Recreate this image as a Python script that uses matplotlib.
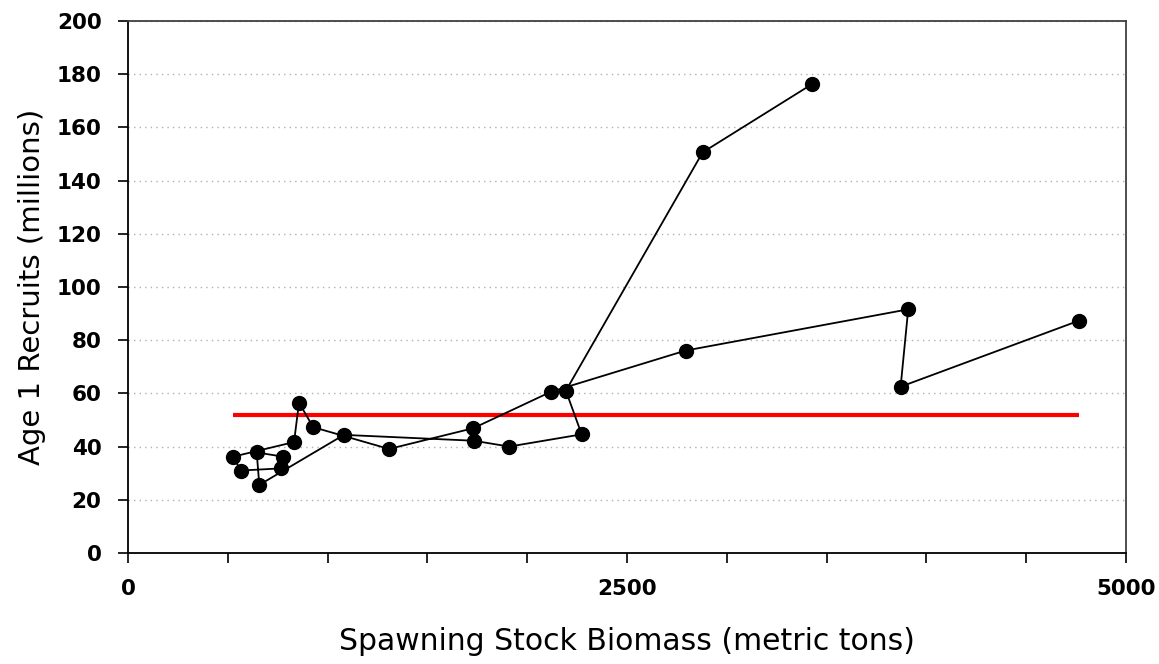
import numpy as np
import matplotlib
matplotlib.use("Agg")
import matplotlib.pyplot as plt
from matplotlib.ticker import MultipleLocator

# spawning stock biomass (metric tons) and age-1 recruits (millions), in series order
ssb = [4763, 3871, 3909, 2794, 2119, 1730, 1308, 928, 857, 832, 527, 565,
       767, 778, 645, 658, 1082, 1733, 1910, 2273, 2194, 2879, 3428]
recruits = [87.3, 62.5, 91.6, 76.1, 60.6, 46.9, 39.1, 47.3, 56.5, 41.7, 36.2, 31.0,
            31.8, 36.2, 37.8, 25.6, 44.4, 42.2, 40.0, 44.6, 61.0, 150.6, 176.3]

# reference recruitment level (red line)
ref_level = 52

fig = plt.figure(figsize=(11.59, 6.64), dpi=100)
ax = fig.add_axes([0.1104, 0.1672, 0.8611, 0.8012])

ax.plot(ssb, recruits, color="black", linewidth=1.3, marker="o",
        markersize=10, markerfacecolor="black", markeredgecolor="black", zorder=3)
ax.hlines(ref_level, min(ssb), max(ssb), color="red", linewidth=3, zorder=2)

ax.set_xlim(0, 5000)
ax.set_ylim(0, 200)
ax.xaxis.set_major_locator(MultipleLocator(2500))
ax.xaxis.set_minor_locator(MultipleLocator(500))
ax.yaxis.set_major_locator(MultipleLocator(20))

ax.yaxis.grid(True, linestyle=(0, (1, 3)), color="#b0b0b0", linewidth=1)
ax.set_axisbelow(True)

ax.tick_params(axis="both", which="both", direction="out", length=7, width=1.2,
               color="black")
ax.tick_params(axis="y", pad=12)
ax.tick_params(axis="x", pad=12)
for lab in ax.get_xticklabels() + ax.get_yticklabels():
    lab.set_fontfamily("DejaVu Sans")
    lab.set_fontweight("bold")
    lab.set_fontsize(15.5)

for side in ["left", "bottom"]:
    ax.spines[side].set_linewidth(1.3)
    ax.spines[side].set_color("black")
for side in ["top", "right"]:
    ax.spines[side].set_linewidth(1.3)
    ax.spines[side].set_color("#404040")

ax.set_xlabel("Spawning Stock Biomass (metric tons)", fontsize=21.5,
              family="DejaVu Sans", labelpad=20)
ax.set_ylabel("Age 1 Recruits (millions)", fontsize=21,
              family="DejaVu Sans", labelpad=8)

fig.savefig("out.png", dpi=100, facecolor="white")
